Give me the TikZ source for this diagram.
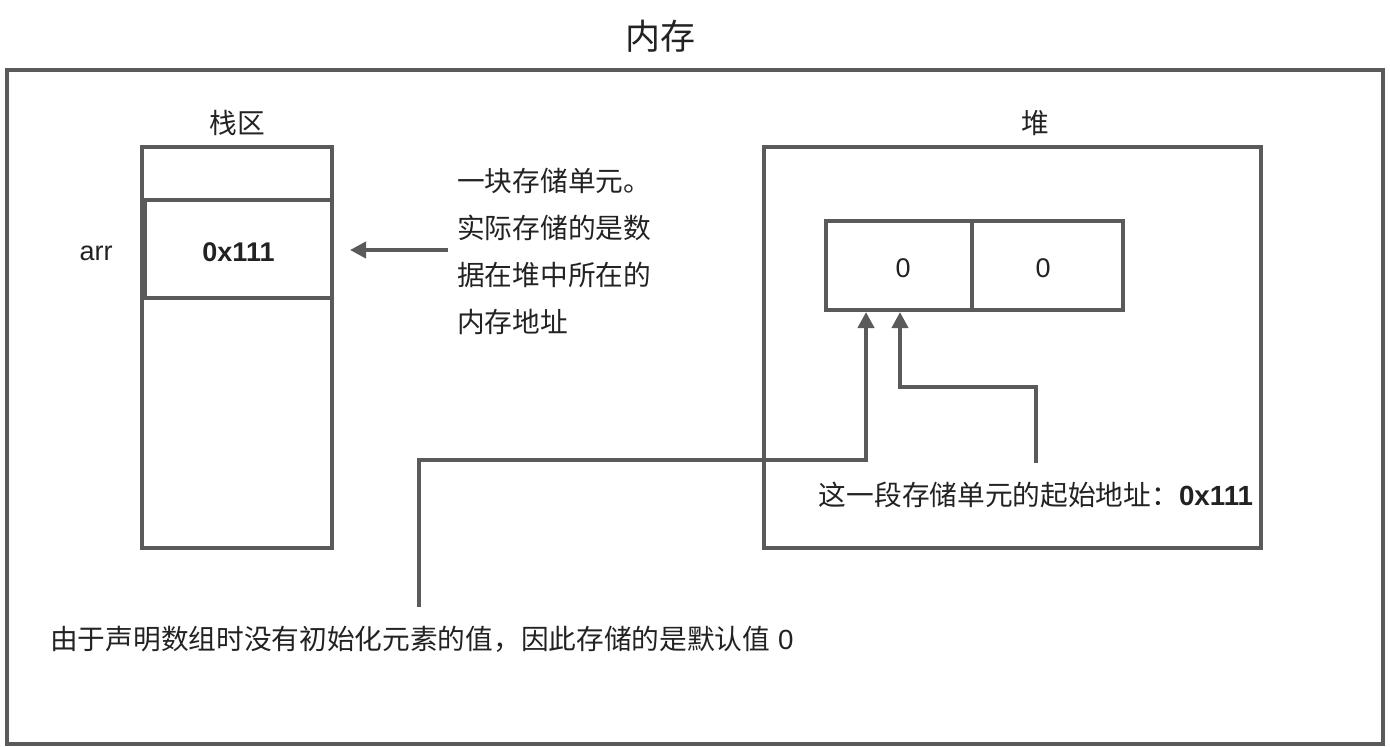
\documentclass[tikz,border=0pt]{standalone}
\usepackage{fontspec}
\setmainfont{Liberation Sans}
\newfontfamily\cjk{Noto Sans CJK SC}
\usetikzlibrary{arrows.meta}
\definecolor{ln}{HTML}{5A5A5A}
\definecolor{tx}{HTML}{222222}
\tikzset{
  box/.style={draw=ln, line width=4pt, inner sep=0pt, minimum width=#1},
  lbl/.style={text=tx, inner sep=0pt, font=\fontsize{27}{32}\selectfont},
  cjklbl/.style={text=tx, inner sep=0pt, font=\fontsize{27.7}{32}\selectfont\cjk},
  conn/.style={draw=ln, line width=4pt, -{Triangle[length=16pt,width=16pt]}, fill=none},
}
\begin{document}
\begin{tikzpicture}[x=1pt,y=-1pt]
\useasboundingbox (0,0) rectangle (1390,747);
% outer frame
\node[box=1376pt, minimum height=674pt] (outer) at (695,407) {};
\node[text=tx, inner sep=0pt, font=\fontsize{35}{40}\selectfont\cjk] (title) at (660,36) {内存};
% stack
\node[cjklbl] (stacklbl) at (237,123) {栈区};
\node[box=190pt, minimum height=401pt] (stack) at (237,347.5) {};
\draw[ln, line width=4pt] (stack.west |- 0,200) coordinate (d1) -- (stack.east |- 0,200) coordinate (d2);
\node[box=187pt, minimum height=98pt] (arr) at (238.5,249) {};
\node[lbl, font=\fontsize{27}{32}\selectfont\bfseries] (arrval) at (238.5,252) {0x111};
\node[lbl] (arrlbl) at (96,253) {arr};
% explanation text
\node[cjklbl, anchor=west, align=left, font=\fontsize{27.7}{47}\selectfont\cjk] (expl) at (457,251)
  {一块存储单元。\\实际存储的是数\\据在堆中所在的\\内存地址};
\coordinate (a1s) at (448,250);
\coordinate (a1e) at (350,250);
\draw[conn] (a1s) -- (a1e);
% heap
\node[cjklbl] (heaplbl) at (1035,123) {堆};
\node[box=497pt, minimum height=401pt] (heap) at (1012.5,347.5) {};
\node[box=146pt, minimum height=89pt] (c1) at (899,265.5) {};
\node[box=151pt, minimum height=89pt] (c2) at (1047.5,265.5) {};
\node[lbl] (v1) at (903,268.5) {0};
\node[lbl] (v2) at (1043,268.5) {0};
\node[lbl, font=\fontsize{27.7}{32}\selectfont] (addr) at (1036,495) {{\cjk 这一段存储单元的起始地址：}\textbf{0x111}};
% bottom text
\node[lbl, anchor=west, font=\fontsize{27.7}{32}\selectfont] (bottom) at (50,639) {{\cjk 由于声明数组时没有初始化元素的值，因此存储的是默认值} 0};
% connectors into the heap cells
\coordinate (b1s) at (419,607);
\coordinate (b1m) at (866,460);
\coordinate (b1e) at (866,312);
\draw[conn] (b1s) |- (b1m) -- (b1e);
\coordinate (b2s) at (1036,463);
\coordinate (b2m) at (900,387);
\coordinate (b2e) at (900,312);
\draw[conn] (b2s) |- (b2m) -- (b2e);
\end{tikzpicture}
\end{document}
